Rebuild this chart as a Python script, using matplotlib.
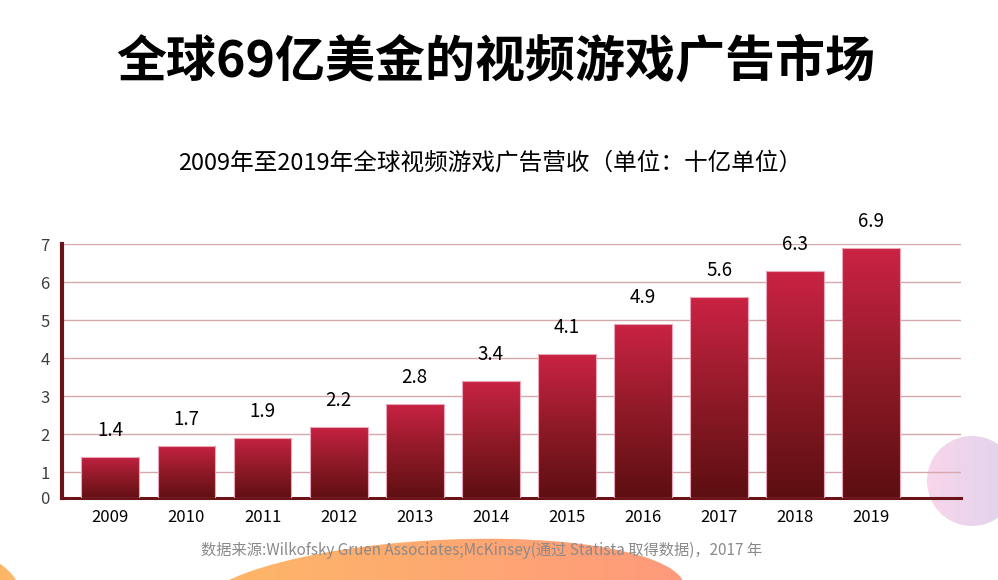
import numpy as np
import matplotlib
matplotlib.use('Agg')
import matplotlib.pyplot as plt
from matplotlib.colors import LinearSegmentedColormap
from matplotlib.patches import Ellipse, Circle

# 中文字体
plt.rcParams['font.family'] = ['Noto Sans CJK SC', 'DejaVu Sans']

# 数据
years = ['2009', '2010', '2011', '2012', '2013', '2014',
         '2015', '2016', '2017', '2018', '2019']
revenue = [1.4, 1.7, 1.9, 2.2, 2.8, 3.4, 4.1, 4.9, 5.6, 6.3, 6.9]
y_ticks = [1, 2, 3, 4, 5, 6, 7]
y_base = 0.32   # 原图的基线并不在 0 处
y_tick_labels = ['0', '1', '2', '3', '4', '5', '6', '7']

title = '全球69亿美金的视频游戏广告市场'
subtitle = '2009年至2019年全球视频游戏广告营收（单位：十亿单位）'
source = '数据来源:Wilkofsky Gruen Associates;McKinsey(通过 Statista 取得数据)，2017 年'

fig = plt.figure(figsize=(9.98, 5.8), dpi=100)

# 背景装饰（渐变圆形）
bg = fig.add_axes([0, 0, 1, 1], zorder=-1)
grad = np.linspace(0, 1, 256).reshape(1, -1)


def blob(patch, c1, c2, xmin, xmax):
    patch.set_facecolor('none')
    patch.set_edgecolor('none')
    bg.add_patch(patch)
    cmap = LinearSegmentedColormap.from_list('blob', [c1, c2])
    im = bg.imshow(grad, cmap=cmap, extent=[xmin, xmax, 700, 300],
                   aspect='auto', interpolation='bilinear')
    im.set_clip_path(patch)


blob(Circle((972, 481), 45), '#f8d6ea', '#ddd3ef', 927, 1017)
blob(Ellipse((440, 600), 490, 120, angle=-3), '#fdb866', '#ff9a7c', 195, 685)
blob(Circle((-30, 610), 55), '#fdb25c', '#fdb86a', -85, 25)
bg.set_xlim(0, 998)
bg.set_ylim(580, 0)
bg.axis('off')

# 柱状图（渐变填充，按柱子形状裁剪）
ax = fig.add_axes([62 / 998, 1 - 498 / 580, (961 - 62) / 998, (498 - 244) / 580])
bar_cmap = LinearSegmentedColormap.from_list('bar', ['#5a0e10', '#901a27', '#cd2345'])
x = np.arange(len(years))
w = 0.76
bars = ax.bar(x, np.array(revenue) - y_base, bottom=y_base, width=w,
              facecolor='none', edgecolor='#eaa6b6', linewidth=0.8, zorder=3)
vgrad = np.linspace(0, 1, 256).reshape(-1, 1)
for xi, v, b in zip(x, revenue, bars):
    im = ax.imshow(vgrad, cmap=bar_cmap, origin='lower', aspect='auto',
                   interpolation='bilinear',
                   extent=[xi - w / 2 - 0.05, xi + w / 2 + 0.05, y_base - 0.1, v + 0.1],
                   zorder=2)
    im.set_clip_path(b)
    ax.annotate(f'{v}', (xi, v), xytext=(0, 19), textcoords='offset points',
                ha='center', va='center', fontsize=13.5, color='black')

ax.set_xlim(-0.636, 11.18)
ax.set_ylim(y_base, 7)
ax.set_xticks(x)
ax.set_xticklabels(years, fontsize=12, color='black')
ax.set_yticks([y_base] + y_ticks)
ax.set_yticklabels(y_tick_labels, fontsize=12, color='#404040')
ax.tick_params(length=0)
ax.tick_params(axis='x', pad=8)
ax.tick_params(axis='y', pad=9)
ax.grid(axis='y', color='#d6a8ae', linewidth=1)
ax.set_axisbelow(True)
for s in ['top', 'right']:
    ax.spines[s].set_visible(False)
ax.spines['left'].set_color('#6a1419')
ax.spines['left'].set_linewidth(3)
ax.spines['bottom'].set_color('#6a1419')
ax.spines['bottom'].set_linewidth(2.2)
ax.patch.set_alpha(0)

# 标题
fig.text(0.497, 1 - 62 / 580, title, ha='center', va='center',
         fontsize=36, fontweight='bold', color='black')
fig.text(0.491, 1 - 163 / 580, subtitle, ha='center', va='center',
         fontsize=17, color='black')
fig.text(0.483, 1 - 550 / 580, source, ha='center', va='center',
         fontsize=11, color='#8a8a8a')

fig.savefig('out.png', dpi=100)
